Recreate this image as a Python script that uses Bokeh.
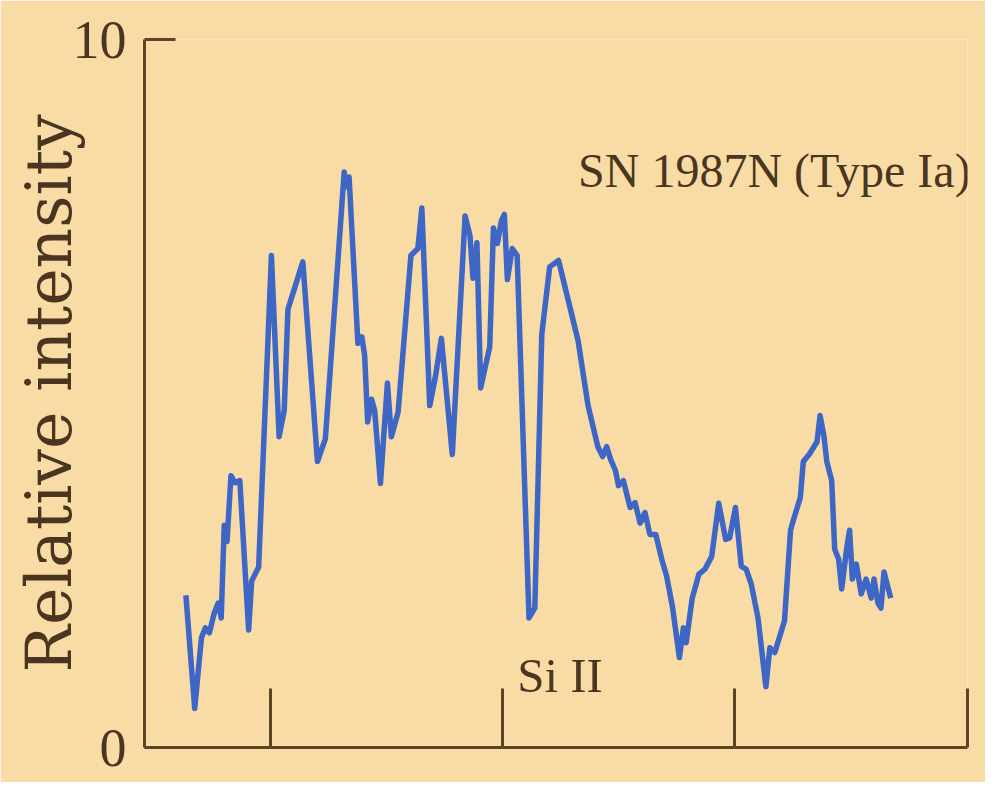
from bokeh.plotting import figure
from bokeh.models import Range1d, FixedTicker, Label, ColumnDataSource
from bokeh.embed import file_html
from bokeh.resources import INLINE

# Wavelength (nm, estimated) and relative intensity
wavelength = [
    363.8, 367.6, 370.5, 372.2, 373.9, 376.0, 377.7, 379.0, 380.3, 381.5,
    383.2, 384.9, 387.0, 390.8, 392.1, 395.1, 400.6, 403.9, 406.1, 407.7,
    414.1, 420.4, 423.8, 431.9, 432.7, 434.0, 437.8, 439.5, 440.7, 442.0,
    443.7, 445.0, 447.5, 450.5, 452.2, 455.1, 457.7, 460.6, 463.6, 465.3,
    468.7, 471.2, 473.7, 478.4, 483.9, 486.0, 487.3, 489.0, 490.6, 494.5,
    496.1, 497.8, 499.5, 500.8, 502.1, 504.2, 506.3, 511.4, 513.9, 516.9,
    520.3, 524.1, 532.5, 536.8, 541.0, 543.1, 544.8, 546.5, 548.6, 549.9,
    552.0, 554.9, 557.0, 559.2, 561.3, 563.4, 565.9, 568.5, 570.6, 573.1,
    576.1, 577.8, 579.0, 581.6, 584.5, 587.1, 590.0, 593.0, 596.0, 597.7,
    600.2, 602.7, 604.8, 607.0, 609.9, 613.3, 615.0, 617.1, 621.3, 623.9,
    625.1, 628.1, 629.4, 631.9, 635.3, 636.6, 638.3, 639.5, 641.6, 642.9,
    644.6, 645.9, 648.0, 649.3, 650.5, 652.2, 654.3, 656.4, 658.6, 659.8,
    661.5, 662.8, 664.1, 667.0,
]
intensity = [
    2.15, 0.55, 1.55, 1.69, 1.62, 1.90, 2.04, 1.83, 3.14, 2.91,
    3.84, 3.74, 3.77, 1.66, 2.35, 2.55, 6.95, 4.39, 4.76, 6.19,
    6.86, 4.04, 4.36, 8.13, 7.92, 8.06, 5.71, 5.80, 5.54, 4.60,
    4.92, 4.76, 3.73, 5.15, 4.39, 4.74, 5.78, 6.95, 7.05, 7.62,
    4.83, 5.25, 5.78, 4.14, 7.51, 7.23, 6.63, 7.13, 5.08, 5.66,
    7.34, 7.12, 7.44, 7.53, 6.61, 7.05, 6.95, 1.83, 1.97, 5.84,
    6.79, 6.88, 5.75, 4.83, 4.25, 4.11, 4.25, 4.07, 3.91, 3.70,
    3.77, 3.39, 3.46, 3.17, 3.32, 3.01, 3.01, 2.66, 2.42, 1.99,
    1.27, 1.69, 1.48, 2.11, 2.45, 2.52, 2.70, 3.45, 2.94, 2.96,
    3.39, 2.56, 2.52, 2.31, 1.83, 0.86, 1.41, 1.34, 1.79, 3.07,
    3.21, 3.53, 4.04, 4.14, 4.32, 4.69, 4.39, 4.04, 3.77, 2.80,
    2.66, 2.24, 2.80, 3.07, 2.38, 2.59, 2.17, 2.38, 2.11, 2.38,
    2.04, 1.97, 2.48, 2.11,
]

x_ticks = [400, 500, 600, 700]
y_ticks = [0, 10]
title_text = "SN 1987N (Type Ia)"
line_label = "Si II"
y_title = "Relative intensity"

BG = "#f9dca5"
AXIS = "#5b4526"
TEXT = "#4a3520"
LINE = "#3d66c6"
SERIF = "Liberation Serif"

p = figure(
    frame_width=823, frame_height=708,
    x_range=Range1d(346, 700.02), y_range=Range1d(0, 10.002),
    output_backend="svg", toolbar_location=None,
    min_border_left=144, min_border_top=39,
    min_border_right=18, min_border_bottom=35,
    background_fill_color=BG, border_fill_color=BG,
)
p.outline_line_color = None
p.grid.visible = False

src = ColumnDataSource(dict(x=wavelength, y=intensity))
p.line("x", "y", source=src, line_color=LINE, line_width=5.5, line_join="round")

# x axis (ticks only, no labels)
xa = p.xaxis[0]
xa.ticker = FixedTicker(ticks=x_ticks)
xa.major_tick_in = 59
xa.major_tick_out = 0
xa.minor_tick_line_color = None
xa.major_label_text_color = None
xa.major_label_text_font_size = "10px"
xa.major_label_standoff = 0
xa.axis_line_color = AXIS
xa.axis_line_width = 3
xa.major_tick_line_color = AXIS
xa.major_tick_line_width = 3

# y axis
ya = p.yaxis[0]
ya.ticker = FixedTicker(ticks=y_ticks)
ya.major_tick_in = 31
ya.major_tick_out = 0
ya.minor_tick_line_color = None
ya.axis_line_color = AXIS
ya.axis_line_width = 3
ya.major_tick_line_color = AXIS
ya.major_tick_line_width = 3
ya.major_label_text_font = SERIF
ya.major_label_text_font_size = "54px"
ya.major_label_text_color = TEXT
ya.major_label_standoff = 18
ya.axis_label = y_title
ya.axis_label_text_font = "DejaVu Serif"
ya.axis_label_text_font_size = "63px"
ya.axis_label_text_font_style = "normal"
ya.axis_label_text_color = TEXT
ya.axis_label_standoff = -16

p.add_layout(Label(x=532.5, y=8.15, text=title_text, text_font=SERIF,
                   text_font_size="48px", text_color=TEXT,
                   text_baseline="alphabetic"))
p.add_layout(Label(x=506.3, y=1.02, text=line_label, text_font=SERIF,
                   text_font_size="49px", text_color=TEXT,
                   text_baseline="alphabetic"))

open("out.html", "w").write(file_html(p, INLINE))
